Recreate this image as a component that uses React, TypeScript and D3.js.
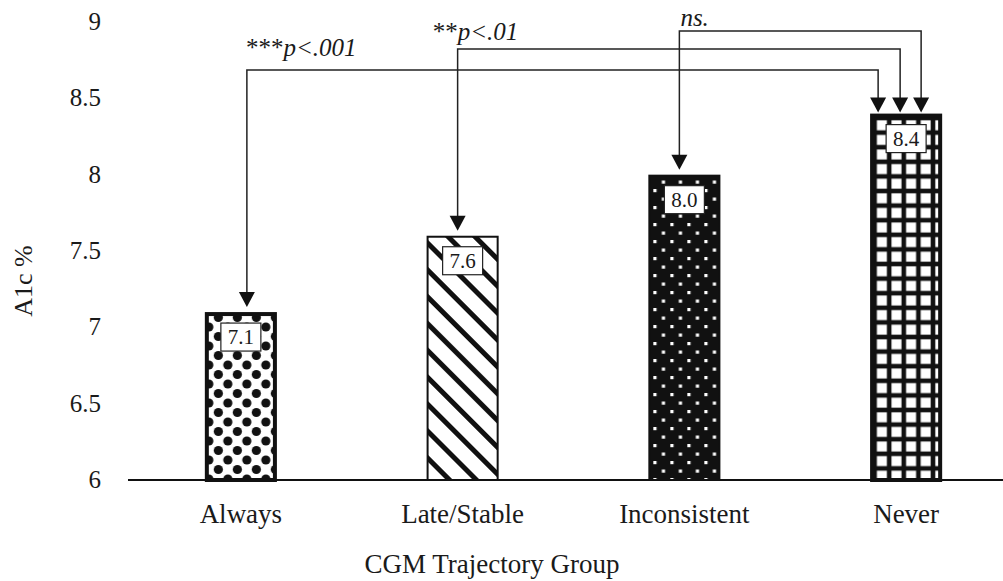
import { useEffect, useRef } from 'react'
import * as d3 from 'd3'

const categories = ['Always', 'Late/Stable', 'Inconsistent', 'Never']
const values = [7.1, 7.6, 8.0, 8.4]
const valueLabels = ['7.1', '7.6', '8.0', '8.4']
const yTicks = [6, 6.5, 7, 7.5, 8, 8.5, 9]
const patterns = ['dots', 'stripes', 'specks', 'grid']

// comparisons against the "Never" group
const compFrom = ['Always', 'Late/Stable', 'Inconsistent']
const compStars = ['***', '**', '']
const compText = ['p<.001', 'p<.01', 'ns.']

const W = 1003
const H = 581
const FONT = '"Liberation Serif", "Times New Roman", serif'

export default function App() {
  const svgRef = useRef<SVGSVGElement>(null)

  useEffect(() => {
    document.body.style.margin = '0'
    const svg = d3.select(svgRef.current)
    svg.selectAll('*').remove()

    const x = d3.scaleBand<string>()
      .domain(categories)
      .range([130, 1017])
      .paddingInner(0.675)
      .paddingOuter(0.3375)
    const y = d3.scaleLinear().domain([6, 9]).range([480, 22])

    // patterns
    const defs = svg.append('defs')
    const dots = defs.append('pattern').attr('id', 'dots')
      .attr('patternUnits', 'userSpaceOnUse').attr('width', 19).attr('height', 19)
      .attr('x', x('Always')! + 4).attr('y', 4)
    dots.append('rect').attr('width', 19).attr('height', 19).attr('fill', '#fff')
    ;[[0, 0], [19, 0], [0, 19], [19, 19], [9.5, 9.5]].forEach(([cx, cy]) => {
      dots.append('circle').attr('cx', cx).attr('cy', cy).attr('r', 4.6).attr('fill', '#111')
    })

    const stripes = defs.append('pattern').attr('id', 'stripes')
      .attr('patternUnits', 'userSpaceOnUse').attr('width', 19).attr('height', 19)
      .attr('patternTransform', 'rotate(45)')
    stripes.append('rect').attr('width', 19).attr('height', 19).attr('fill', '#fff')
    stripes.append('rect').attr('x', 0).attr('y', 0).attr('width', 19).attr('height', 5).attr('fill', '#111')

    const specks = defs.append('pattern').attr('id', 'specks')
      .attr('patternUnits', 'userSpaceOnUse').attr('width', 17).attr('height', 17)
      .attr('x', x('Inconsistent')! + 5).attr('y', 2)
    specks.append('rect').attr('width', 17).attr('height', 17).attr('fill', '#111')
    ;[[0, 0], [8.5, 8.5]].forEach(([sx, sy]) => {
      specks.append('rect').attr('x', sx).attr('y', sy).attr('width', 3.2).attr('height', 3.2).attr('fill', '#fff')
    })

    const grid = defs.append('pattern').attr('id', 'grid')
      .attr('patternUnits', 'userSpaceOnUse').attr('width', 14.6).attr('height', 14.6)
      .attr('x', x('Never')! + 4.5).attr('y', 118)
    grid.append('rect').attr('width', 14.6).attr('height', 14.6).attr('fill', '#111')
    grid.append('rect').attr('x', 2.3).attr('y', 2.3).attr('width', 10).attr('height', 10).attr('fill', '#fff')

    const g = svg.append('g')

    // y tick labels
    g.selectAll('text.ytick')
      .data(yTicks)
      .join('text')
      .attr('class', 'ytick')
      .attr('x', 101)
      .attr('y', d => y(d) + 8)
      .attr('text-anchor', 'end')
      .attr('font-family', FONT)
      .attr('font-size', 25)
      .attr('fill', '#1a1a1a')
      .text(d => String(d))

    // y axis title
    g.append('text')
      .attr('transform', `translate(32,${281}) rotate(-90)`)
      .attr('text-anchor', 'middle')
      .attr('font-family', FONT)
      .attr('font-size', 26)
      .attr('fill', '#1a1a1a')
      .text('A1c %')

    // bars
    const borders = [4, 2, 2, 4]
    categories.forEach((c, i) => {
      const bw = borders[i]
      const x0 = x(c)!
      const top = y(values[i])
      g.append('rect')
        .attr('x', x0 + bw / 2)
        .attr('y', top + bw / 2)
        .attr('width', x.bandwidth() - bw)
        .attr('height', y(6) - top - bw / 2)
        .attr('fill', `url(#${patterns[i]})`)
        .attr('stroke', '#111')
        .attr('stroke-width', bw)

      const cx = x0 + x.bandwidth() / 2
      g.append('rect')
        .attr('x', cx - 20)
        .attr('y', top + 11)
        .attr('width', 40)
        .attr('height', 28)
        .attr('fill', '#fff')
        .attr('stroke', '#222')
        .attr('stroke-width', 1.2)
      g.append('text')
        .attr('x', cx)
        .attr('y', top + 32)
        .attr('text-anchor', 'middle')
        .attr('font-family', FONT)
        .attr('font-size', 21)
        .attr('fill', '#1a1a1a')
        .text(valueLabels[i])
    })

    // baseline
    g.append('line')
      .attr('x1', 128).attr('x2', W)
      .attr('y1', y(6)).attr('y2', y(6))
      .attr('stroke', '#111').attr('stroke-width', 2)

    // x labels
    g.selectAll('text.xlab')
      .data(categories)
      .join('text')
      .attr('class', 'xlab')
      .attr('x', d => x(d)! + x.bandwidth() / 2)
      .attr('y', 523)
      .attr('text-anchor', 'middle')
      .attr('font-family', FONT)
      .attr('font-size', 27)
      .attr('fill', '#1a1a1a')
      .text(d => d)

    g.append('text')
      .attr('x', 492)
      .attr('y', 573)
      .attr('text-anchor', 'middle')
      .attr('font-family', FONT)
      .attr('font-size', 27)
      .attr('fill', '#1a1a1a')
      .text('CGM Trajectory Group')

    // comparison brackets
    const lineY = [70, 49, 31]
    const fromOff = [6, -5, -5]
    const toOff = [-28, -6, 15]
    const textDx = [-1, -25, 1]
    const textY = [56, 40, 26]
    const arrow = (ax: number, tipY: number) => {
      g.append('path')
        .attr('d', `M${ax - 8},${tipY - 15} L${ax + 8},${tipY - 15} L${ax},${tipY} Z`)
        .attr('fill', '#111')
    }
    const neverX = x('Never')! + x.bandwidth() / 2
    const neverTop = y(values[3])
    compFrom.forEach((c, i) => {
      const fi = categories.indexOf(c)
      const fx = x(c)! + x.bandwidth() / 2 + fromOff[i]
      const tx = neverX + toOff[i]
      const fTop = y(values[fi])
      g.append('path')
        .attr('d', `M${fx},${fTop - 14} L${fx},${lineY[i]} L${tx},${lineY[i]} L${tx},${neverTop - 14}`)
        .attr('fill', 'none')
        .attr('stroke', '#222')
        .attr('stroke-width', 1.5)
      arrow(fx, fTop - 5)
      arrow(tx, neverTop - 1)

      const t = g.append('text')
        .attr('x', fx + textDx[i])
        .attr('y', textY[i])
        .attr('font-family', FONT)
        .attr('font-size', 25)
        .attr('fill', '#1a1a1a')
      if (compStars[i]) t.append('tspan').text(compStars[i])
      t.append('tspan').attr('font-style', 'italic').text(compText[i])
    })
  }, [])

  return (
    <svg
      ref={svgRef}
      width={W}
      height={H}
      style={{ display: 'block', background: '#fff' }}
    />
  )
}
